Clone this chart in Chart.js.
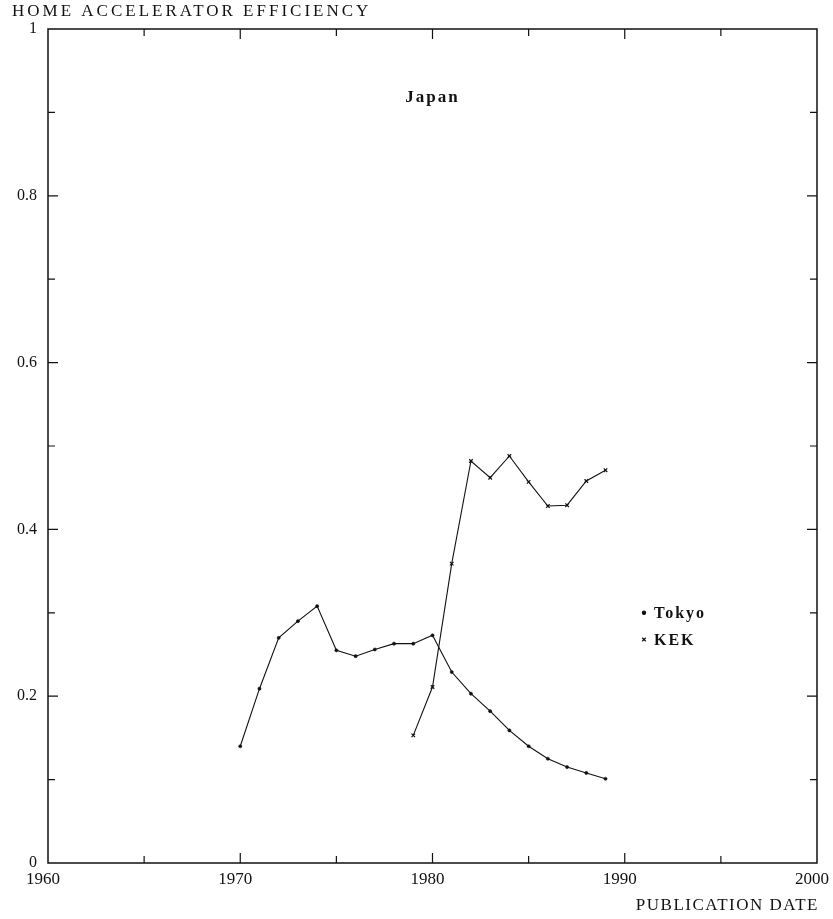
<!DOCTYPE html>
<html>
<head>
<meta charset="utf-8">
<title>Japan - home accelerator efficiency</title>
<script src="https://cdn.jsdelivr.net/npm/chart.js@4/dist/chart.umd.min.js"></script>
<style>
  html, body { margin: 0; padding: 0; background: #fff; }
  canvas { display: block; }
</style>
</head>
<body>
<canvas id="chart" width="833" height="919"></canvas>
<script>
// Data
const tokyoYears = [1970, 1971, 1972, 1973, 1974, 1975, 1976, 1977, 1978, 1979,
                    1980, 1981, 1982, 1983, 1984, 1985, 1986, 1987, 1988, 1989];
const tokyoValues = [0.140, 0.209, 0.270, 0.290, 0.308, 0.255, 0.248, 0.256, 0.263, 0.263,
                     0.273, 0.229, 0.203, 0.182, 0.159, 0.140, 0.125, 0.115, 0.108, 0.101];
const kekYears = [1979, 1980, 1981, 1982, 1983, 1984, 1985, 1986, 1987, 1988, 1989];
const kekValues = [0.153, 0.211, 0.359, 0.482, 0.462, 0.488, 0.457, 0.428, 0.429, 0.458, 0.471];
const xTicks = [1960, 1970, 1980, 1990, 2000];
const yTicks = [0, 0.2, 0.4, 0.6, 0.8, 1];

const INK = '#111';
const SERIF = '"Liberation Serif", "DejaVu Serif", serif';

function toPoints(xs, ys) {
  return xs.map((x, i) => ({ x: x, y: ys[i] }));
}

// Frame, inward ticks, titles and legend
const framePlugin = {
  id: 'frame',
  afterDraw(chart) {
    const ctx = chart.ctx;
    const a = chart.chartArea;
    const xs = chart.scales.x;
    const ys = chart.scales.y;
    ctx.save();
    ctx.strokeStyle = INK;
    ctx.lineWidth = 1.5;
    ctx.strokeRect(a.left, a.top, a.right - a.left, a.bottom - a.top);

    ctx.lineWidth = 1.2;
    ctx.beginPath();
    for (let yr = 1965; yr < 2000; yr += 5) {
      const px = xs.getPixelForValue(yr);
      const len = yr % 10 === 0 ? 10 : 7;
      ctx.moveTo(px, a.bottom); ctx.lineTo(px, a.bottom - len);
      ctx.moveTo(px, a.top); ctx.lineTo(px, a.top + len);
    }
    for (let i = 1; i < 10; i++) {
      const py = ys.getPixelForValue(i / 10);
      const len = i % 2 === 0 ? 10 : 7;
      ctx.moveTo(a.left, py); ctx.lineTo(a.left + len, py);
      ctx.moveTo(a.right, py); ctx.lineTo(a.right - len, py);
    }
    ctx.stroke();

    ctx.fillStyle = INK;
    ctx.textBaseline = 'middle';

    // axis titles
    ctx.font = '17px ' + SERIF;
    ctx.letterSpacing = '3px';
    ctx.textAlign = 'left';
    ctx.fillText('HOME ACCELERATOR EFFICIENCY', 12, 12);
    ctx.letterSpacing = '1.5px';
    ctx.textAlign = 'right';
    ctx.fillText('PUBLICATION DATE', a.right + 2, 906);

    // panel title
    ctx.font = 'bold 17px ' + SERIF;
    ctx.letterSpacing = '2px';
    ctx.textAlign = 'center';
    ctx.fillText('Japan', xs.getPixelForValue(1980), 98);

    // legend
    ctx.font = 'bold 16px ' + SERIF;
    ctx.letterSpacing = '2px';
    ctx.textAlign = 'left';
    const lx = xs.getPixelForValue(1991);
    const rows = [[ys.getPixelForValue(0.3), 0], [ys.getPixelForValue(0.268), 1]];
    rows.forEach(([py, di]) => {
      const ds = chart.data.datasets[di];
      Chart.helpers.drawPoint(ctx, {
        pointStyle: ds.pointStyle, radius: ds.pointRadius, borderWidth: 1.2, rotation: 0
      }, lx, py);
      ctx.fillText(ds.label, lx + 10, py + 1);
    });
    ctx.restore();
  }
};

new Chart(document.getElementById('chart'), {
  type: 'line',
  data: {
    datasets: [
      {
        label: 'Tokyo',
        data: toPoints(tokyoYears, tokyoValues),
        borderColor: INK,
        backgroundColor: INK,
        borderWidth: 1.1,
        pointStyle: 'circle',
        pointRadius: 1.6,
        pointBorderWidth: 0.5,
        tension: 0
      },
      {
        label: 'KEK',
        data: toPoints(kekYears, kekValues),
        borderColor: INK,
        backgroundColor: INK,
        borderWidth: 1.1,
        pointStyle: 'crossRot',
        pointRadius: 2.5,
        pointBorderWidth: 1.2,
        tension: 0
      }
    ]
  },
  options: {
    responsive: false,
    animation: false,
    layout: { padding: { top: 29, right: 16, left: 0, bottom: 0 } },
    plugins: {
      legend: { display: false },
      tooltip: { enabled: false },
      title: { display: false }
    },
    scales: {
      x: {
        type: 'linear',
        min: 1960,
        max: 2000,
        afterFit(scale) {
          scale.height = 56;
          scale.paddingLeft = 0;
          scale.paddingRight = 0;
        },
        afterBuildTicks(scale) { scale.ticks = xTicks.map(v => ({ value: v })); },
        grid: { display: false, drawTicks: false },
        border: { display: false },
        ticks: {
          color: INK,
          padding: 6,
          maxRotation: 0,
          labelOffset: -5,
          font: { family: SERIF, size: 17 },
          callback: v => String(v)
        }
      },
      y: {
        type: 'linear',
        min: 0,
        max: 1,
        afterFit(scale) {
          scale.width = 48;
          scale.paddingTop = 0;
          scale.paddingBottom = 0;
        },
        afterBuildTicks(scale) { scale.ticks = yTicks.map(v => ({ value: v })); },
        grid: { display: false, drawTicks: false },
        border: { display: false },
        ticks: {
          color: INK,
          padding: 11,
          font: { family: SERIF, size: 16 },
          callback: v => (v === 0 || v === 1) ? String(v) : v.toFixed(1)
        }
      }
    }
  },
  plugins: [framePlugin]
});
</script>
</body>
</html>
